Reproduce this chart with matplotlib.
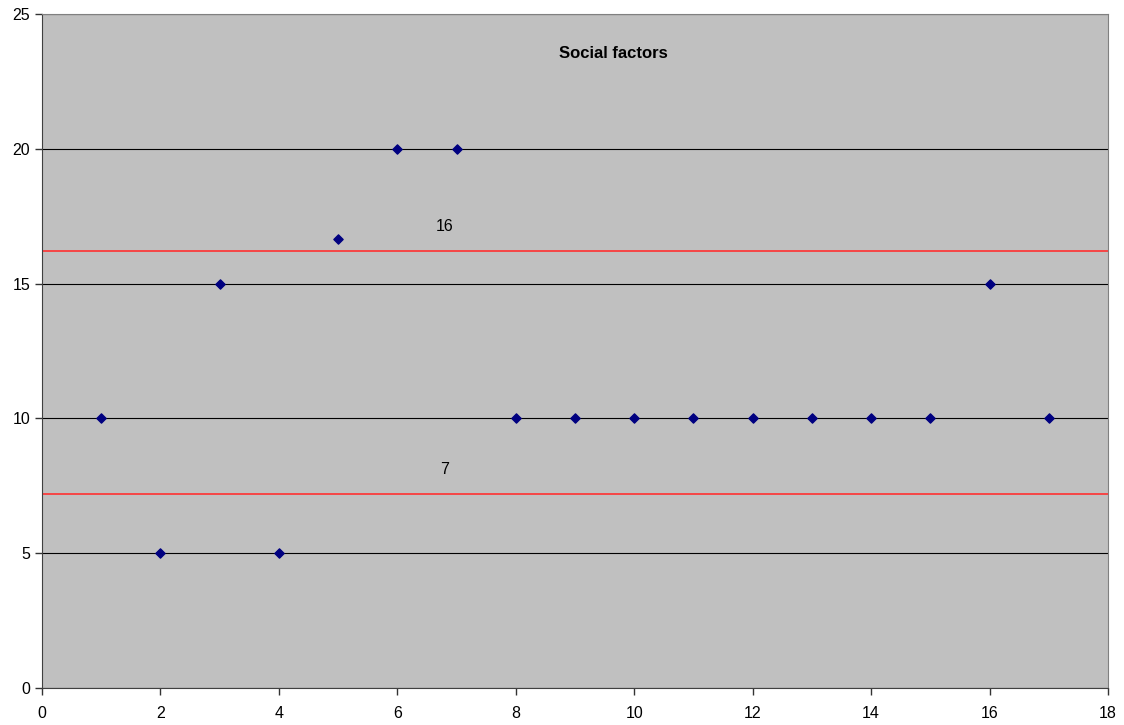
import numpy as np
import matplotlib.pyplot as plt

plt.rcParams['font.family'] = ['Liberation Sans', 'DejaVu Sans']

x = [1, 2, 3, 4, 5, 6, 7, 8, 9, 10, 11, 12, 13, 14, 15, 16, 17]
scores = [10, 5, 15, 5, 16.67, 20, 20, 10, 10, 10, 10, 10, 10, 10, 10, 15, 10]

# upper and lower limit lines
limits = [16.2, 7.2]
limit_label_x = 6.8
title = 'Social factors'

fig = plt.figure(figsize=(11.24, 7.25), dpi=100)
ax = fig.add_axes([42/1124, 37/725, 1066/1124, 674/725])
ax.set_facecolor('#c0c0c0')

ax.set_xlim(0, 18)
ax.set_ylim(0, 25)
ax.set_xticks(np.arange(0, 19, 2))
ax.set_yticks(np.arange(0, 26, 5))
ax.yaxis.grid(True, color='black', linewidth=0.8)
ax.set_axisbelow(True)

for v in limits:
    ax.axhline(v, color='#ff3030', linewidth=1.2)
    ax.text(limit_label_x, v + 0.9, f'{v:.0f}', ha='center', va='center', fontsize=11.5)

ax.scatter(x, scores, marker='D', s=22, color='#000080', zorder=3)

ax.text(9.65, 23.55, title, ha='center', va='center', fontsize=12, fontweight='bold')

ax.tick_params(direction='out', length=5, width=1, labelsize=11.5, color='#333333')
ax.spines['left'].set_color('#404040')
ax.spines['bottom'].set_color('#404040')
ax.spines['top'].set_color('#808080')
ax.spines['right'].set_color('#808080')
ax.tick_params(axis='x', pad=8)

fig.savefig('out.png', dpi=100)
